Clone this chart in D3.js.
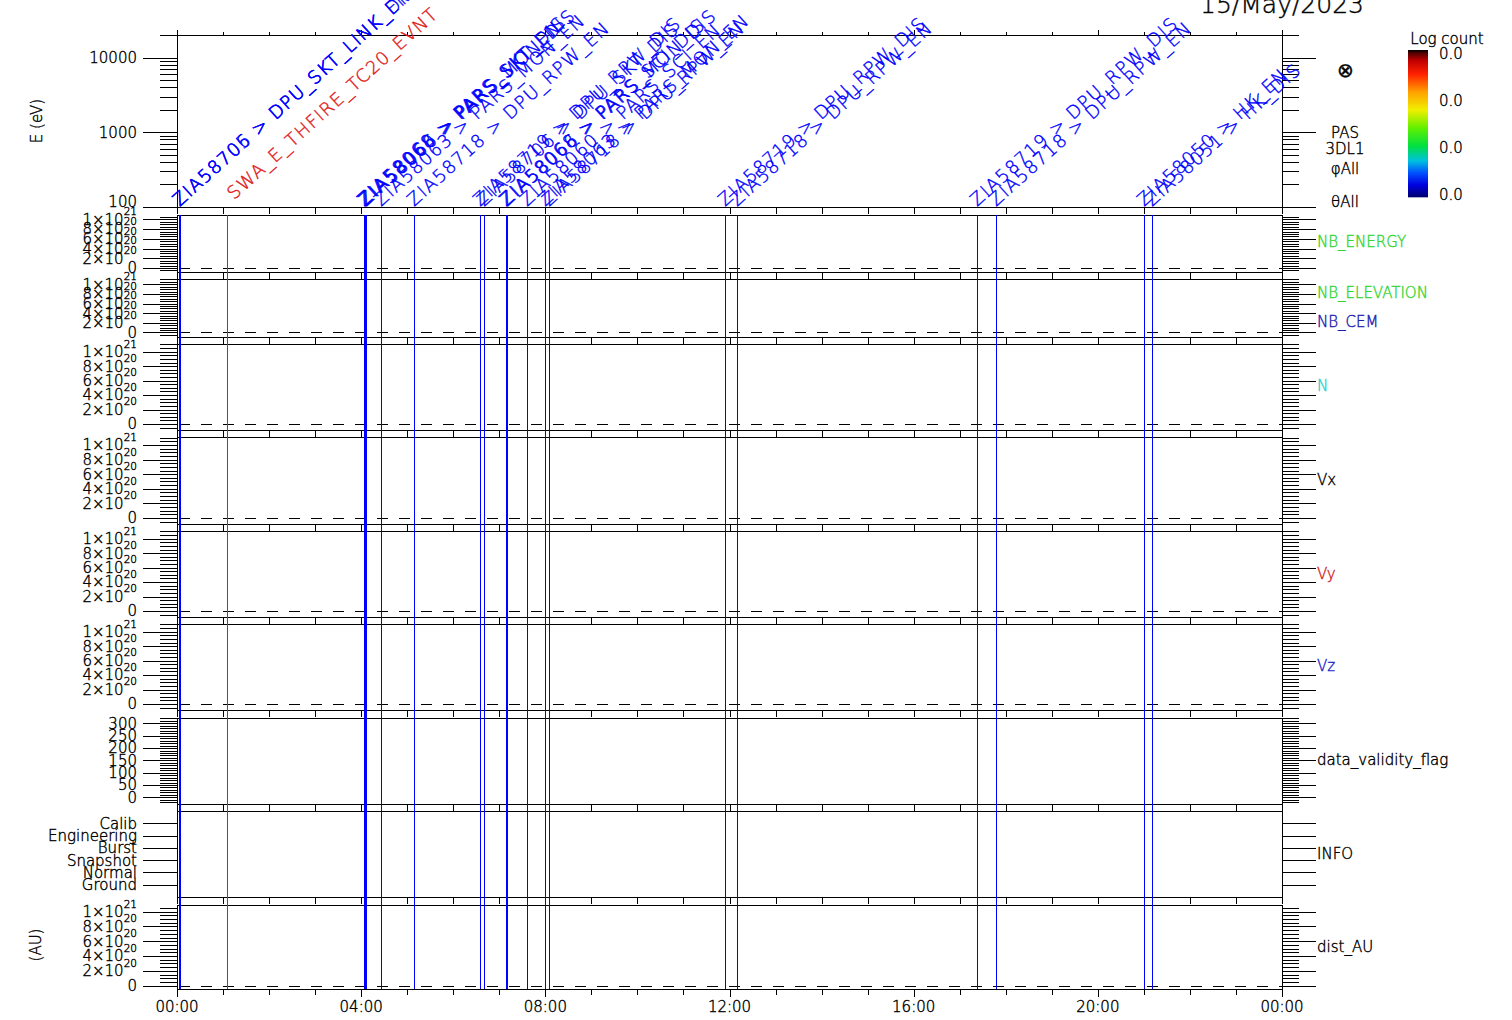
<!DOCTYPE html>
<html><head><meta charset="utf-8">
<script src="https://cdn.jsdelivr.net/npm/d3@7"></script>
<style>
html,body{margin:0;padding:0;background:#fff;overflow:hidden;}
svg{display:block;font-family:"DejaVu Sans",sans-serif;font-weight:200;}
text{stroke-width:0.4px;paint-order:fill;}
</style></head><body>
<svg id="chart" width="1512" height="1020"></svg>
<script>
// ---------------- data ----------------
const dateTitle = "15/May/2023";
const hourTicks = d3.range(0, 25, 1);
const majorHours = [0, 4, 8, 12, 16, 20, 24];
const timeLabels = ["00:00", "04:00", "08:00", "12:00", "16:00", "20:00", "00:00"];

const energyTicks = [100, 1000, 10000];
const energyLabels = ["100", "1000", "10000"];
const energyMinor = [200,300,400,500,600,700,800,900,2000,3000,4000,5000,6000,7000,8000,9000,20000];

const densityTicks = [0, 2e20, 4e20, 6e20, 8e20, 1e21];
const densityMantissa = ["0", "2×10", "4×10", "6×10", "8×10", "1×10"];
const densityExponent = ["", "20", "20", "20", "20", "21"];

const flagTicks = [0, 50, 100, 150, 200, 250, 300];
const infoCategories = ["Ground", "Normal", "Snapshot", "Burst", "Engineering", "Calib"];

const colorbarLabels = ["0.0", "0.0", "0.0", "0.0"];

const eventTimes = [0.054, 0.058, 1.079, 4.062, 4.083, 4.105, 4.431, 5.148,
  6.581, 6.668, 7.146, 7.167, 7.602, 7.993, 8.080,
  11.902, 12.163, 17.375, 17.788, 21.003, 21.177];
const eventLabels = [
  "ZIA58705 > DPU_SKT_LINK_EN", "ZIA58706 > DPU_SKT_LINK_DIS",
  "SWA_E_THFIRE_TC20_EVNT",
  "ZIA58068 > PARS_SKT_DIS", "ZIA58060 > PARS_SKT_EN", "ZIA58066 > PARS_MON_DIS",
  "ZIA58063 > PARS_MON_EN", "ZIA58718 > DPU_RPW_EN",
  "ZIA58719 > DPU_RPW_DIS", "ZIA58706 > DPU_SKT_DIS",
  "ZIA58068 > PARS_SCI_DIS", "ZIA58066 > PARS_MON_DIS",
  "ZIA58060 > PARS_SCI_EN", "ZIA58063 > PARS_MON_EN", "ZIA58718 > DPU_RPW_EN",
  "ZIA58719 > DPU_RPW_DIS", "ZIA58718 > DPU_RPW_EN",
  "ZIA58719 > DPU_RPW_DIS", "ZIA58718 > DPU_RPW_EN",
  "ZIA58050 > HK_EN", "ZIA58051 > HK_DIS"];
const eventKinds = ["tc","tc","evt","tc","tc","tc","tc","tc","tc","tc","tc","tc",
  "tc","tc","tc","tc","tc","tc","tc","tc","tc"];

// ---------------- layout ----------------
const svg = d3.select("#chart");
const X0 = 177, X1 = 1282;
const x = d3.scaleLinear().domain([0, 24]).range([X0, X1]);
const kindColor = {tc: "#0000ff", evt: "#e01818"};

const panels = [
  {type: "log", top: 35, bottom: 207, right: []},
  {type: "dens", top: 215, bottom: 272, dom: [-8.3e19, 1.09e21], zero: true,
    right: [{t: "NB_ENERGY", y: 242, c: "#33d633"}]},
  {type: "dens", top: 279, bottom: 337, dom: [-9.5e19, 1.11e21], zero: true,
    right: [{t: "NB_ELEVATION", y: 293, c: "#33d633"}, {t: "NB_CEM", y: 322, c: "#1c1cb0"}]},
  {type: "dens", top: 344, bottom: 430, dom: [-8.3e19, 1.106e21], zero: true,
    right: [{t: "N", y: 386, c: "#22d4d4"}]},
  {type: "dens", top: 437, bottom: 524, dom: [-8.3e19, 1.11e21], zero: true,
    right: [{t: "Vx", y: 480, c: "#000"}]},
  {type: "dens", top: 531, bottom: 617, dom: [-8.3e19, 1.106e21], zero: true,
    right: [{t: "Vy", y: 574, c: "#d41c1c"}]},
  {type: "dens", top: 624, bottom: 710, dom: [-8.3e19, 1.106e21], zero: true,
    right: [{t: "Vz", y: 666, c: "#1c1cd0"}]},
  {type: "flag", top: 718, bottom: 804, dom: [-27, 322], zero: false,
    right: [{t: "data_validity_flag", y: 760, c: "#000"}]},
  {type: "info", top: 811, bottom: 897, dom: [-1, 6], zero: false,
    right: [{t: "INFO", y: 854, c: "#000"}]},
  {type: "dens", top: 905, bottom: 989, dom: [-4.5e19, 1.09e21], zero: true,
    right: [{t: "dist_AU", y: 947, c: "#000"}]}
];

const g = svg.append("g").attr("shape-rendering", "crispEdges");
const tg = svg.append("g");
const FS = 15;

function txt(sel, color) {
  return sel.attr("fill", color || "#000").attr("stroke", color || "#000");
}
function hline(x1, x2, y, w) {
  g.append("line").attr("x1", x1).attr("x2", x2).attr("y1", Math.round(y) + 0.5).attr("y2", Math.round(y) + 0.5)
    .attr("stroke", "#000").attr("stroke-width", w || 1);
}
function vline(xx, y1, y2, color) {
  g.append("line").attr("x1", Math.round(xx) + 0.5).attr("x2", Math.round(xx) + 0.5).attr("y1", y1).attr("y2", y2)
    .attr("stroke", color || "#000").attr("stroke-width", 1);
}
function yTick(y, major) {
  const len = major ? 34 : 17;
  hline(X0 - len, X0, y);
  hline(X1, X1 + len, y);
}
function leftLabel(y, text) {
  txt(tg.append("text").attr("x", 137).attr("y", y + 5.4).attr("text-anchor", "end")
    .attr("font-size", FS)).text(text);
}

panels.forEach((p, i) => {
  let y;
  if (p.type === "log") {
    y = d3.scaleLog().domain([100, 20000]).range([p.bottom, p.top]);
    energyMinor.forEach(v => yTick(y(v), false));
    energyTicks.forEach((v, k) => {
      yTick(y(v), true);
      // bottom label sits slightly above its tick, as in the reference
      leftLabel(y(v) - (k === 0 ? 5 : 0), energyLabels[k]);
    });
  } else {
    y = d3.scaleLinear().domain(p.dom).range([p.bottom, p.top]);
    if (p.type === "dens") {
      d3.range(-3, 25).map(k => k * 5e19).filter(v => v >= p.dom[0] && v <= p.dom[1])
        .forEach(v => yTick(y(v), false));
      densityTicks.forEach((v, k) => {
        yTick(y(v), true);
        const t = txt(tg.append("text").attr("x", 137).attr("y", y(v) + 5.4).attr("text-anchor", "end")
          .attr("font-size", FS));
        t.append("tspan").text(densityMantissa[k]);
        if (densityExponent[k]) t.append("tspan").attr("dy", -9.5).attr("font-size", 10.5).text(densityExponent[k]);
      });
    } else if (p.type === "flag") {
      d3.range(-2, 33).map(k => k * 10).filter(v => v >= p.dom[0] && v <= p.dom[1])
        .forEach(v => yTick(y(v), false));
      flagTicks.forEach(v => { yTick(y(v), true); leftLabel(y(v), String(v)); });
    } else if (p.type === "info") {
      infoCategories.forEach((c, k) => { yTick(y(k), true); leftLabel(y(k), c); });
    }
    if (p.zero) {
      svg.append("line").attr("x1", X0 + 2).attr("x2", X1).attr("y1", Math.round(y(0)) + 0.5).attr("y2", Math.round(y(0)) + 0.5)
        .attr("stroke", "#000").attr("stroke-width", 1).attr("stroke-dasharray", "11,11")
        .attr("shape-rendering", "crispEdges");
    }
  }
  // box
  hline(X0, X1, p.top);
  hline(X0, X1, p.bottom);
  vline(X0, p.top, p.bottom + 1);
  vline(X1, p.top, p.bottom + 1);
  // x ticks (outward)
  const last = i === panels.length - 1;
  hourTicks.forEach(h => {
    const maj = majorHours.includes(h);
    const down = last ? (maj ? 8 : 6) : 7;
    vline(x(h), p.bottom, p.bottom + down);
    if (i === 0) vline(x(h), p.top - (maj ? 5 : 3), p.top);
  });
  // right labels
  p.right.forEach(r => {
    txt(tg.append("text").attr("x", 1317).attr("y", r.y + 5.4).attr("font-size", FS), r.c).text(r.t);
  });
});

// x tick labels
majorHours.forEach((h, k) => {
  txt(tg.append("text").attr("x", x(h)).attr("y", 1012).attr("text-anchor", "middle")
    .attr("font-size", FS)).text(timeLabels[k]);
});

// y titles
txt(tg.append("text").attr("transform", "translate(42,121) rotate(-90)").attr("text-anchor", "middle")
  .attr("font-size", FS)).text("E (eV)");
txt(tg.append("text").attr("transform", "translate(41,945) rotate(-90)").attr("text-anchor", "middle")
  .attr("font-size", FS)).text("(AU)");

// top panel right annotations
[["⊗", 70, 20], ["PAS", 133, FS], ["3DL1", 149, FS], ["φAll", 169, FS], ["θAll", 202, FS]].forEach(a => {
  txt(tg.append("text").attr("x", 1345).attr("y", a[1] + a[2] * 0.36).attr("text-anchor", "middle")
    .attr("font-size", a[2])).text(a[0]);
});

// title
txt(tg.append("text").attr("x", X1).attr("y", 13).attr("text-anchor", "middle")
  .attr("font-size", 25)).text(dateTitle);

// event lines
const evG = svg.append("g").attr("shape-rendering", "crispEdges");
eventTimes.forEach((t, k) => {
  evG.append("line").attr("x1", Math.round(x(t)) + 0.5).attr("x2", Math.round(x(t)) + 0.5)
    .attr("y1", panels[1].top).attr("y2", panels[panels.length - 1].bottom)
    .attr("stroke", kindColor[eventKinds[k]]).attr("stroke-width", 1);
});
// event labels
eventTimes.forEach((t, k) => {
  txt(tg.append("text").attr("transform", `translate(${x(t)},${panels[0].bottom}) rotate(-42)`)
    .attr("dx", eventKinds[k] === "evt" ? 10 : 0)
    .attr("font-size", 18).attr("letter-spacing", "1.4px"), kindColor[eventKinds[k]])
    .text(eventLabels[k]);
});

// colorbar
const defs = svg.append("defs");
const grad = defs.append("linearGradient").attr("id", "cb").attr("x1", 0).attr("y1", 1).attr("x2", 0).attr("y2", 0);
const stops = [[0, "#ffffff"], [0.015, "#ffffff"], [0.02, "#000070"], [0.1, "#0000e0"], [0.18, "#0050ff"],
  [0.26, "#00c0e0"], [0.36, "#00e040"], [0.48, "#60f000"], [0.6, "#f0f000"], [0.72, "#ffa000"],
  [0.84, "#ff2000"], [0.93, "#c00000"], [0.98, "#500000"], [1, "#000000"]];
stops.forEach(s => grad.append("stop").attr("offset", s[0]).attr("stop-color", s[1]));
svg.append("rect").attr("x", 1408).attr("y", 50).attr("width", 20).attr("height", 150).attr("fill", "url(#cb)");
txt(tg.append("text").attr("x", 1447).attr("y", 44).attr("text-anchor", "middle").attr("font-size", FS)).text("Log count");
const cbY = d3.scaleLinear().domain([0, 3]).range([54, 195]);
colorbarLabels.forEach((l, k) => {
  txt(tg.append("text").attr("x", 1451).attr("y", cbY(k) + 5.4).attr("text-anchor", "middle")
    .attr("font-size", FS)).text(l);
});
</script>
</body></html>
